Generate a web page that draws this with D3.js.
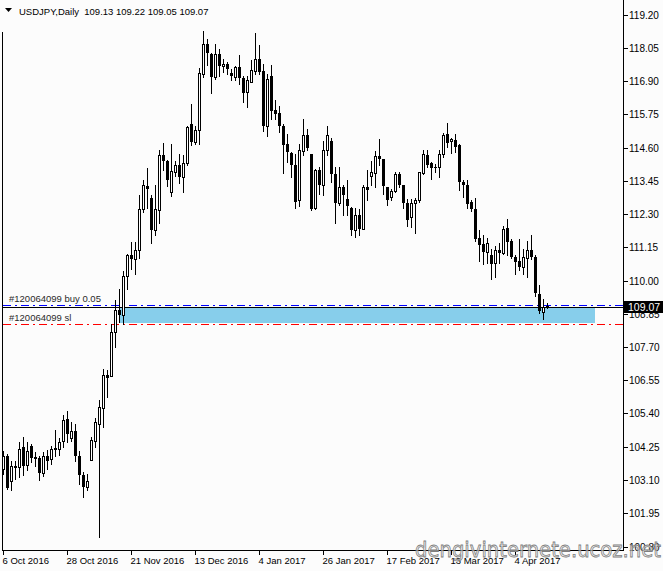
<!DOCTYPE html>
<html><head><meta charset="utf-8">
<script src="https://cdn.jsdelivr.net/npm/d3@7"></script>
<style>html,body{margin:0;padding:0;background:#fcfcfc;} svg{display:block}</style>
</head><body>
<svg id="c" width="663" height="571"></svg>
<script>
// ---------- data ----------
const symbolTitle = "USDJPY,Daily";
const currentOHLC = [109.13, 109.22, 109.05, 109.07];
const dateLabels = ["6 Oct 2016","28 Oct 2016","21 Nov 2016","13 Dec 2016","4 Jan 2017","26 Jan 2017","17 Feb 2017","13 Mar 2017","4 Apr 2017"];
const dateLabelBars = [0,16,32,48,64,80,96,112,128];
const priceTicks = [119.20,118.05,116.90,115.75,114.60,113.45,112.30,111.15,110.00,108.85,107.70,106.55,105.40,104.25,103.10,101.95,100.80];

const opens = [103.48,103.94,103.06,103.60,103.54,104.23,103.62,104.26,103.89,103.85,
103.33,103.94,103.83,104.20,104.18,104.46,105.21,104.56,104.81,103.94,
103.29,102.85,103.80,104.46,105.04,105.58,106.74,106.71,108.21,108.99,
108.81,110.15,110.87,110.73,111.04,112.46,113.26,112.87,111.75,112.45,
114.33,114.12,113.06,113.75,113.98,113.57,114.06,115.42,114.79,115.21,
117.15,118.19,117.83,117.03,117.85,117.42,117.50,117.19,117.03,117.40,
117.01,116.52,116.86,117.23,117.65,117.23,115.36,117.09,115.88,115.80,
115.36,114.72,114.42,114.01,112.77,114.47,115.02,114.36,112.51,113.81,
113.29,114.50,114.84,113.69,112.67,113.25,112.83,112.52,111.73,112.28,
111.79,113.25,113.63,113.73,114.29,114.21,113.23,112.90,113.11,113.68,
113.29,112.67,112.19,112.69,112.79,113.73,114.33,114.06,113.94,113.94,
114.38,115.08,114.82,114.87,114.67,113.40,113.29,112.71,112.49,111.48,
111.25,110.98,110.89,110.60,111.04,110.94,111.82,111.38,110.81,110.66,
110.46,110.79,111.04,110.83,109.54,108.92,109.13];
const highs = [104.12,104.00,103.74,103.74,104.43,104.60,104.41,104.35,104.06,103.94,
104.06,104.14,104.29,104.83,104.56,105.34,105.50,105.10,105.04,104.12,
103.37,103.31,104.60,105.23,105.85,106.94,106.89,108.50,109.31,109.71,
110.32,110.92,111.33,111.33,112.94,113.49,113.89,112.94,113.29,114.50,
114.76,114.18,114.73,114.15,114.36,114.33,115.35,116.11,115.33,117.35,
118.62,118.36,117.88,118.19,118.02,117.67,117.56,117.33,117.42,117.79,
117.06,117.07,117.61,118.57,118.13,117.50,117.15,117.47,116.23,116.02,
115.42,115.08,114.44,114.36,114.71,115.57,115.25,114.36,113.84,113.94,
114.81,115.33,114.94,113.92,113.92,113.32,113.46,112.54,112.52,112.48,
113.29,113.81,114.13,114.47,114.91,114.21,113.23,113.17,113.75,113.75,
113.29,112.83,112.83,112.86,113.75,114.52,114.50,114.10,114.04,114.50,
115.10,115.46,114.94,115.08,114.73,113.48,113.46,112.80,112.84,111.73,
111.56,111.48,111.10,111.18,111.29,111.87,112.13,111.44,110.87,111.42,
111.10,111.36,111.56,110.87,109.83,109.37,109.22];
const lows = [103.31,102.80,102.76,103.14,103.22,103.29,103.43,103.71,103.60,103.11,
103.25,103.48,103.66,103.94,103.97,104.23,104.41,104.46,103.74,102.97,
102.50,102.76,103.78,104.23,101.12,104.93,105.96,106.68,107.69,108.56,
108.48,109.71,110.40,110.21,110.79,112.36,112.50,111.29,111.56,111.98,
113.81,113.28,112.92,113.60,113.37,113.06,114.01,114.70,114.73,114.73,
117.03,117.44,116.49,116.98,117.07,117.21,117.13,116.92,116.92,116.80,
116.17,116.00,116.86,117.13,117.15,115.17,114.99,115.57,115.60,115.13,
113.71,114.09,113.57,112.51,112.56,114.33,114.50,112.45,112.48,112.98,
112.97,114.33,113.40,111.98,112.60,112.25,112.25,111.56,111.52,111.59,
111.79,112.77,113.32,113.23,113.98,113.00,112.60,112.79,113.06,113.23,
112.52,111.90,111.84,111.64,112.71,113.69,113.92,113.52,113.75,113.57,
114.27,114.61,114.40,114.44,113.14,112.88,112.52,112.40,111.38,110.69,
110.58,110.60,110.06,110.11,110.60,110.90,110.87,110.77,110.21,110.37,
110.21,110.11,110.75,109.48,108.87,108.66,109.05];
const closes = [103.94,102.83,103.60,103.51,104.18,103.60,104.12,103.87,103.82,103.33,
103.94,103.77,104.18,104.15,104.43,105.19,104.69,104.81,103.94,103.29,
102.87,103.08,104.49,105.10,105.62,106.74,106.62,108.21,108.99,108.82,
110.15,110.87,110.73,111.07,112.46,113.29,113.17,111.76,112.48,114.33,
114.15,113.48,113.77,113.98,113.57,114.07,115.30,114.79,115.22,117.19,
118.19,117.88,117.03,117.85,117.42,117.50,117.33,117.07,117.40,117.01,
116.48,116.94,117.27,117.65,117.21,115.36,116.96,115.86,115.77,115.34,
114.70,114.44,114.01,112.71,114.52,115.02,114.59,112.48,113.83,113.29,
114.50,115.04,113.67,112.67,113.25,112.97,112.56,111.73,112.28,111.79,
113.25,113.14,113.75,114.29,114.20,113.26,112.79,113.11,113.68,113.29,
112.67,112.10,112.67,112.79,113.74,114.36,114.00,113.90,113.90,114.38,
115.04,114.76,114.90,114.61,113.40,113.31,112.65,112.46,111.44,111.23,
110.98,111.31,110.58,111.04,110.94,111.79,111.33,110.81,110.63,110.46,
110.81,111.04,110.81,109.56,108.94,109.10,109.07];

const bidPrice = 109.07;
const buyPrice = 109.14;
const slPrice = 108.50;
const buyLabel = "#120064099 buy 0.05";
const slLabel = "#120064099 sl";
const zonePrices = [109.05, 108.53];
const zoneBars = [28.9, 147.9];
const watermark = "dengivinternete.ucoz.net";

// ---------- layout ----------
const W = 663, H = 571;
const plotL = 3, plotR = 623, plotB = 550;
const svg = d3.select("#c");
const font = "'Liberation Sans', Arial, sans-serif";

svg.append("rect").attr("width", W).attr("height", H).attr("fill", "#fcfcfc");

const x = d3.scaleLinear().domain([0, opens.length - 1]).range([3.5, 3.5 + 4 * (opens.length - 1)]);
const y = d3.scaleLinear().domain([100.80, 119.20]).range([546.5, 14.5]);

const bars = opens.map((o, i) => ({i, o, h: highs[i], l: lows[i], c: closes[i]}));

// background zone rectangle
svg.append("rect")
  .attr("x", Math.round(x(zoneBars[0])))
  .attr("y", Math.round(y(zonePrices[0])))
  .attr("width", Math.round(x(zoneBars[1])) - Math.round(x(zoneBars[0])))
  .attr("height", Math.round(y(zonePrices[1])) - Math.round(y(zonePrices[0])))
  .attr("fill", "#87ceeb");

// order lines
function hline(p, color, dash) {
  const yy = Math.round(y(p)) + 0.5;
  svg.append("line").attr("x1", plotL).attr("x2", plotR).attr("y1", yy).attr("y2", yy)
    .attr("stroke", color).attr("stroke-width", 1).attr("stroke-dasharray", dash || null);
}
hline(buyPrice, "#0000ff", "8,4,2,4");
hline(slPrice, "#ff0000", "8,4,2,4");
hline(bidPrice, "#000000", null);

svg.append("text").attr("x", 9).attr("y", Math.round(y(buyPrice)) - 3)
  .attr("font-family", font).attr("font-size", "9.5px").attr("fill", "#2a2a2a").text(buyLabel);
svg.append("text").attr("x", 9).attr("y", Math.round(y(slPrice)) - 3)
  .attr("font-family", font).attr("font-size", "9.5px").attr("fill", "#2a2a2a").text(slLabel);

// candles
const g = svg.append("g");
g.selectAll("line.wick").data(bars).enter().append("line")
  .attr("x1", d => x(d.i)).attr("x2", d => x(d.i))
  .attr("y1", d => Math.round(y(d.h))).attr("y2", d => Math.round(y(d.l)) + 1)
  .attr("stroke", "#000").attr("stroke-width", 1);

g.selectAll("rect.body").data(bars).enter().append("rect")
  .each(function(d) {
    const top = Math.round(y(Math.max(d.o, d.c)));
    const bot = Math.round(y(Math.min(d.o, d.c)));
    const sel = d3.select(this);
    if (d.c > d.o) {
      sel.attr("x", x(d.i) - 1).attr("y", top + 0.5)
        .attr("width", 2).attr("height", Math.max(bot - top, 0.01))
        .attr("fill", "#ffffff").attr("stroke", "#000").attr("stroke-width", 1);
    } else {
      sel.attr("x", x(d.i) - 1.5).attr("y", top)
        .attr("width", 3).attr("height", Math.max(bot - top, 1))
        .attr("fill", "#000");
    }
  });

// frame
svg.append("line").attr("x1", plotL - 0.5).attr("x2", plotL - 0.5).attr("y1", 32).attr("y2", plotB + 0.5).attr("stroke", "#000");
svg.append("line").attr("x1", plotR + 0.5).attr("x2", plotR + 0.5).attr("y1", 0).attr("y2", plotB + 0.5).attr("stroke", "#000");
svg.append("line").attr("x1", plotL - 1).attr("x2", plotR + 1).attr("y1", plotB + 0.5).attr("y2", plotB + 0.5).attr("stroke", "#000");

// price axis
const yAxis = svg.append("g");
priceTicks.forEach(p => {
  const yy = Math.round(y(p)) + 0.5;
  yAxis.append("line").attr("x1", plotR + 1).attr("x2", plotR + 5).attr("y1", yy).attr("y2", yy).attr("stroke", "#000");
  yAxis.append("text").attr("x", 629).attr("y", yy + 3.5)
    .attr("font-family", font).attr("font-size", "10px").attr("fill", "#000").text(p.toFixed(2));
});
// bid price box
const by = Math.round(y(bidPrice));
svg.append("rect").attr("x", plotR + 1).attr("y", by - 6).attr("width", 39).attr("height", 12).attr("fill", "#000");
svg.append("text").attr("x", 628).attr("y", by + 4).attr("font-family", font).attr("font-size", "10.5px")
  .attr("fill", "#fff").text(bidPrice.toFixed(2));

// date axis
dateLabelBars.forEach((b, k) => {
  const xx = Math.round(x(b)) - 0.5;
  svg.append("line").attr("x1", xx).attr("x2", xx).attr("y1", plotB + 1).attr("y2", plotB + 5).attr("stroke", "#000");
  svg.append("text").attr("x", xx - 1).attr("y", 564).attr("font-family", font).attr("font-size", "9.5px")
    .attr("fill", "#000").text(dateLabels[k]);
});

// header
svg.append("path").attr("d", "M5,8 L12,8 L8.5,12 Z").attr("fill", "#000");
svg.append("text").attr("x", 19).attr("y", 15).attr("font-family", font).attr("font-size", "9.5px")
  .attr("fill", "#000").attr("xml:space", "preserve")
  .text(symbolTitle + "  " + currentOHLC.map(v => v.toFixed(2)).join(" "));

// watermark
svg.append("text").attr("x", 415).attr("y", 557).attr("font-family", "'DejaVu Sans', sans-serif")
  .attr("font-size", "21px").attr("textLength", 246).attr("lengthAdjust", "spacingAndGlyphs")
  .attr("fill", "#ececec").attr("fill-opacity", 0.6).attr("stroke", "#7f7f7f").attr("stroke-width", 0.8)
  .text(watermark);
</script>
</body></html>
